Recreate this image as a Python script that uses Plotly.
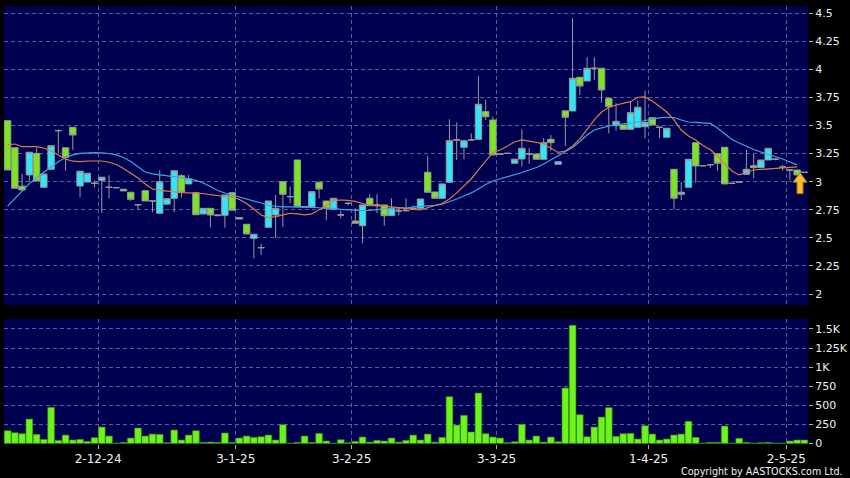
import plotly.graph_objects as go

# ---------------- data ----------------
opens = [3.543, 3.302, 2.960, 3.060, 3.252, 2.950, 3.110, 3.454, 3.302, 3.484,
         2.962, 2.997, 2.986, 3.012, 2.950, 2.947, 2.933, 2.906, 2.795, 2.920,
         2.828, 2.719, 2.800, 2.852, 3.053, 2.980, 2.902, 2.713, 2.763, 2.697,
         2.701, 2.902, 2.668, 2.621, 2.496, 2.413, 2.594, 2.704, 3.000, 2.867,
         3.193, 2.778, 2.778, 2.994, 2.828, 2.754, 2.704, 2.807, 2.650, 2.608,
         2.852, 2.793, 2.793, 2.700, 2.740, 2.742, 2.763, 2.763, 3.084, 2.908,
         2.852, 2.994, 3.371, 3.306, 3.371, 3.377, 3.623, 3.549, 3.246, 3.252,
         3.164, 3.202, 3.246, 3.246, 3.199, 3.377, 3.155, 3.630, 3.629, 3.929,
         3.896, 4.009, 4.009, 3.742, 3.498, 3.504, 3.466, 3.484, 3.489, 3.569,
         3.484, 3.395, 3.110, 2.888, 2.950, 3.347, 3.142, 3.151, 3.249, 3.306,
         2.986, 2.997, 3.066, 3.142, 3.125, 3.193, 3.200, 3.130, 3.104, 3.104, 3.083]
highs = [3.543, 3.302, 3.068, 3.262, 3.302, 3.068, 3.320, 3.466, 3.302, 3.484,
         3.093, 3.075, 3.009, 3.040, 3.057, 2.950, 2.933, 2.906, 2.795, 2.920,
         2.828, 3.104, 2.849, 3.098, 3.067, 3.060, 2.911, 2.763, 2.763, 2.703,
         2.882, 2.902, 2.680, 2.621, 2.532, 2.446, 2.828, 2.882, 3.000, 2.956,
         3.193, 2.778, 2.911, 2.994, 2.828, 2.852, 2.742, 2.820, 2.763, 2.793,
         2.888, 2.888, 2.793, 2.852, 2.770, 2.852, 2.790, 2.846, 3.229, 2.908,
         2.980, 3.555, 3.528, 3.365, 3.430, 3.940, 3.727, 3.578, 3.246, 3.252,
         3.200, 3.466, 3.300, 3.246, 3.386, 3.415, 3.178, 3.630, 4.454, 3.929,
         4.107, 4.107, 4.009, 3.742, 3.700, 3.504, 3.710, 3.720, 3.810, 3.569,
         3.484, 3.475, 3.110, 3.000, 3.199, 3.347, 3.142, 3.151, 3.249, 3.306,
         2.986, 2.997, 3.282, 3.246, 3.193, 3.297, 3.210, 3.150, 3.104, 3.104, 3.083]
lows = [3.104, 2.941, 2.926, 3.000, 3.006, 2.950, 3.110, 3.250, 3.098, 3.282,
        2.861, 2.997, 2.950, 2.724, 2.852, 2.940, 2.918, 2.830, 2.754, 2.828,
        2.728, 2.719, 2.800, 2.728, 2.861, 2.980, 2.706, 2.713, 2.594, 2.697,
        2.590, 2.746, 2.668, 2.535, 2.318, 2.348, 2.594, 2.496, 2.600, 2.808,
        2.778, 2.778, 2.778, 2.852, 2.659, 2.754, 2.674, 2.790, 2.630, 2.452,
        2.787, 2.719, 2.608, 2.700, 2.700, 2.742, 2.750, 2.763, 2.906, 2.852,
        2.852, 2.994, 3.193, 3.200, 3.371, 3.377, 3.549, 3.238, 3.246, 3.252,
        3.164, 3.134, 3.160, 3.199, 3.199, 3.276, 3.155, 3.318, 3.629, 3.771,
        3.896, 3.905, 3.703, 3.430, 3.454, 3.466, 3.466, 3.484, 3.386, 3.504,
        3.386, 3.395, 2.754, 2.837, 2.950, 2.991, 3.142, 3.120, 3.098, 2.980,
        2.986, 2.997, 3.066, 3.030, 3.125, 3.193, 3.190, 3.100, 3.015, 3.060, 3.083]
closes = [3.104, 2.941, 2.926, 3.262, 3.006, 3.068, 3.320, 3.454, 3.214, 3.415,
          3.093, 3.075, 2.986, 3.040, 2.950, 2.947, 2.918, 2.843, 2.795, 2.828,
          2.828, 3.000, 2.849, 3.098, 2.906, 3.024, 2.706, 2.763, 2.704, 2.703,
          2.882, 2.746, 2.680, 2.535, 2.532, 2.413, 2.828, 2.763, 2.888, 2.867,
          2.778, 2.778, 2.911, 2.935, 2.763, 2.852, 2.704, 2.807, 2.630, 2.793,
          2.787, 2.793, 2.697, 2.763, 2.740, 2.742, 2.763, 2.846, 2.906, 2.852,
          2.980, 3.365, 3.371, 3.365, 3.371, 3.689, 3.578, 3.238, 3.246, 3.252,
          3.200, 3.297, 3.246, 3.199, 3.347, 3.347, 3.178, 3.573, 3.920, 3.851,
          4.009, 4.009, 3.816, 3.667, 3.537, 3.466, 3.614, 3.662, 3.528, 3.504,
          3.484, 3.475, 2.852, 2.906, 3.199, 3.140, 3.142, 3.151, 3.164, 2.980,
          2.986, 2.997, 3.110, 3.125, 3.193, 3.297, 3.200, 3.130, 3.104, 3.060, 3.083]
volumes = [166, 140, 127, 319, 118, 52, 472, 39, 109, 44,
           52, 26, 74, 214, 96, 3, 13, 70, 201, 96,
           122, 118, 9, 175, 44, 109, 166, 13, 17, 13,
           136, 13, 70, 96, 79, 87, 109, 44, 245, 3,
           13, 96, 13, 131, 31, 3, 48, 9, 26, 83,
           17, 39, 31, 70, 17, 39, 109, 44, 122, 17,
           79, 612, 240, 367, 149, 660, 127, 83, 70, 9,
           22, 249, 44, 96, 17, 83, 22, 726, 1548, 376,
           87, 214, 345, 468, 92, 127, 131, 57, 232, 122,
           44, 57, 109, 122, 289, 79, 3, 13, 13, 227,
           3, 66, 13, 3, 9, 13, 3, 3, 31, 44, 44]
ma_short = [3.327, 3.335, 3.311, 3.311, 3.311, 3.300, 3.273, 3.238, 3.200, 3.182,
            3.178, 3.184, 3.187, 3.184, 3.173, 3.153, 3.117, 3.073, 3.033, 2.980,
            2.935, 2.923, 2.915, 2.908, 2.902, 2.900, 2.900, 2.895, 2.884, 2.873,
            2.868, 2.864, 2.842, 2.806, 2.757, 2.704, 2.681, 2.689, 2.704, 2.719,
            2.713, 2.704, 2.713, 2.748, 2.788, 2.833, 2.837, 2.833, 2.824, 2.806,
            2.788, 2.784, 2.784, 2.775, 2.766, 2.762, 2.753, 2.748, 2.770, 2.788,
            2.806, 2.846, 2.900, 2.962, 3.024, 3.104, 3.184, 3.260, 3.282, 3.318,
            3.353, 3.371, 3.362, 3.349, 3.335, 3.300, 3.260, 3.273, 3.318, 3.380,
            3.469, 3.549, 3.620, 3.660, 3.682, 3.698, 3.712, 3.751, 3.754, 3.718,
            3.669, 3.620, 3.549, 3.460, 3.407, 3.371, 3.322, 3.286, 3.229, 3.157,
            3.095, 3.060, 3.082, 3.104, 3.109, 3.113, 3.117, 3.122, 3.126, 3.131]
ma_long = [2.782, 2.849, 2.915, 2.983, 3.037, 3.086, 3.136, 3.177, 3.215, 3.238,
           3.251, 3.257, 3.258, 3.257, 3.251, 3.238, 3.215, 3.180, 3.135, 3.086,
           3.069, 3.060, 3.051, 3.042, 3.033, 3.028, 3.011, 2.988, 2.957, 2.922,
           2.899, 2.882, 2.864, 2.848, 2.831, 2.810, 2.788, 2.779, 2.775, 2.775,
           2.775, 2.775, 2.772, 2.768, 2.765, 2.763, 2.753, 2.748, 2.744, 2.742,
           2.744, 2.753, 2.762, 2.766, 2.770, 2.766, 2.775, 2.779, 2.784, 2.790,
           2.799, 2.819, 2.846, 2.873, 2.900, 2.935, 2.975, 3.006, 3.024, 3.042,
           3.064, 3.082, 3.104, 3.126, 3.157, 3.193, 3.233, 3.269, 3.304, 3.358,
           3.415, 3.460, 3.478, 3.496, 3.506, 3.513, 3.520, 3.531, 3.544, 3.558,
           3.567, 3.573, 3.571, 3.549, 3.531, 3.527, 3.522, 3.518, 3.478, 3.424,
           3.375, 3.344, 3.313, 3.286, 3.264, 3.244, 3.224, 3.202, 3.175, 3.149]
date_pos = [12.5, 31.5, 47.5, 67.5, 88.5, 107.5]
date_labels = ["2-12-24", "3-1-25", "3-2-25", "3-3-25", "1-4-25", "2-5-25"]
price_ticks = [2, 2.25, 2.5, 2.75, 3, 3.25, 3.5, 3.75, 4, 4.25, 4.5]
price_labels = ["2", "2.25", "2.5", "2.75", "3", "3.25", "3.5", "3.75", "4", "4.25", "4.5"]
vol_ticks = [0, 250, 500, 750, 1000, 1250, 1500]
vol_labels = ["0", "250", "500", "750", "1K", "1.25K", "1.5K"]

# ---------------- styling ----------------
NAVY = "#000050"
GRID = "#5c5c9c"
CYAN = "#2ee8f8"
GREEN = "#7ae61e"
EDGE = "#9a9a9a"
VGREEN = "#6cf51a"
VEDGE = "#3d8f10"
ORANGE = "#e07a45"
BLUE = "#3ba6e6"
TXT = "#f0f0f0"
FONT = "DejaVu Sans"

idx = list(range(len(closes)))

fig = go.Figure()
fig.add_trace(go.Bar(
    x=idx, y=volumes, xaxis="x2", yaxis="y2",
    marker=dict(color=VGREEN, line=dict(color=VEDGE, width=0.6)),
    showlegend=False, hoverinfo="skip"))
fig.add_trace(go.Candlestick(
    x=idx, open=opens, high=highs, low=lows, close=closes,
    xaxis="x", yaxis="y",
    increasing=dict(fillcolor=CYAN, line=dict(color=EDGE, width=1)),
    decreasing=dict(fillcolor=GREEN, line=dict(color=EDGE, width=1)),
    whiskerwidth=0, showlegend=False, hoverinfo="skip"))
fig.add_trace(go.Scatter(
    x=idx[:len(ma_long)], y=ma_long, mode="lines", xaxis="x", yaxis="y",
    line=dict(color=BLUE, width=1.2), showlegend=False, hoverinfo="skip"))
fig.add_trace(go.Scatter(
    x=idx[:len(ma_short)], y=ma_short, mode="lines", xaxis="x", yaxis="y",
    line=dict(color=ORANGE, width=1.2), showlegend=False, hoverinfo="skip"))

xr = [-0.5, len(closes) - 0.5]
DASH = "4px,3px"
common_x = dict(range=xr, tickvals=date_pos, showgrid=True, gridcolor=GRID,
                griddash=DASH, gridwidth=1, zeroline=False, showline=False,
                fixedrange=True, automargin=False)
common_y = dict(side="right", showgrid=True, gridcolor=GRID, griddash=DASH,
                gridwidth=1, zeroline=False, showline=False, ticks="outside",
                ticklen=4, tickcolor="#b0b0b0", tickfont=dict(color=TXT, size=11, family=FONT),
                fixedrange=True, automargin=False)

fig.update_layout(
    width=850, height=478,
    margin=dict(l=4, r=42, t=6, b=34, pad=0, autoexpand=False),
    paper_bgcolor="#000000", plot_bgcolor=NAVY,
    font=dict(family=FONT, color=TXT, size=11),
    boxgap=0.12, boxgroupgap=0.0, bargap=0.08,
    xaxis=dict(**common_x, anchor="y", domain=[0, 1], showticklabels=False,
               ticks="", rangeslider=dict(visible=False), matches="x2"),
    xaxis2=dict(**common_x, anchor="y2", domain=[0, 1], ticktext=date_labels,
                ticks="outside", ticklen=4, tickcolor="#b0b0b0",
                tickfont=dict(color=TXT, size=12, family=FONT)),
    yaxis=dict(**common_y, anchor="x", domain=[0.3174, 1], range=[1.903, 4.563],
               tickvals=price_ticks, ticktext=price_labels),
    yaxis2=dict(**common_y, anchor="x2", domain=[0, 0.2854], range=[-8, 1631],
                tickvals=vol_ticks, ticktext=vol_labels),
    annotations=[dict(text="Copyright by AASTOCKS.com Ltd.", xref="paper", yref="paper",
                      x=1.046, y=-0.062, xanchor="right", yanchor="middle",
                      showarrow=False, font=dict(size=9.6, color=TXT, family=FONT))],
    shapes=[dict(type="path", xref="x", yref="y", xsizemode="pixel", ysizemode="pixel",
                 xanchor=109.4, yanchor=3.0,
                 path="M 0 9 L 7 -0.5 L 3 -0.5 L 3 -12 L -3 -12 L -3 -0.5 L -7 -0.5 Z",
                 fillcolor="#f5c02a", line=dict(color="#b07800", width=1))],
)

fig.write_html(
    "out.html",
    config={"displayModeBar": False, "staticPlot": True},
    post_script="document.body.style.margin='0';document.body.style.padding='0';"
                "document.body.style.background='#000';",
)
